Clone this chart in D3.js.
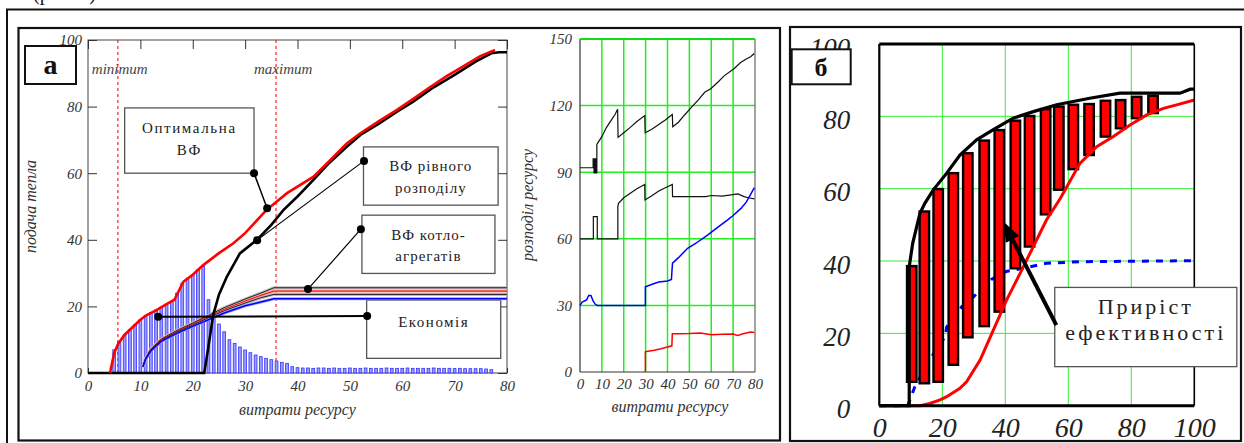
<!DOCTYPE html>
<html><head><meta charset="utf-8">
<script src="https://cdn.jsdelivr.net/npm/d3@7"></script>
<style>
html,body{margin:0;padding:0;background:#fff;}
svg{display:block;}
text{font-family:"Liberation Serif","DejaVu Serif",serif;}
</style></head><body>
<svg id="c" width="1244" height="443"></svg>
<script>
// ---------- Panel "а", left chart: подача тепла vs витрати ресурсу ----------
const aXTicks = [0, 10, 20, 30, 40, 50, 60, 70, 80];
const aYTicks = [0, 20, 40, 60, 80, 100];
const aRedX = [4.2, 5, 5.8, 7, 8.6, 10, 11.2, 13, 15, 16.5, 18.2, 20, 22, 25, 27.7, 30, 34.1, 38, 43, 46, 49.4, 52, 55.7, 59, 62.1, 65, 68.4, 71, 74.8, 77.7];
const aRedY = [0, 6, 8.9, 11.5, 13.9, 16, 17.4, 18.8, 20.7, 22, 27.4, 29.5, 32.4, 36, 38.9, 42, 49, 54, 58.9, 63.5, 68.9, 72, 75.8, 79, 82.3, 85.5, 89.1, 91.5, 95.1, 97];
const aEqX = [0, 22.2, 23, 23.9, 25, 26.5, 29, 32.2, 35, 37.3, 40, 43, 46, 49.4, 52, 55.7, 59, 62.1, 66, 70, 74, 77, 78.5, 80];
const aEqY = [0, 0, 8, 17.4, 23.5, 28.9, 35.9, 39.9, 44.5, 48.9, 53, 57.9, 63, 67.9, 71.5, 75, 78.5, 81.5, 85.8, 89.5, 93.5, 96, 96.3, 96.3];
const aBarX = [5, 6, 7, 8, 9, 10, 11, 12, 13, 14, 15, 16, 17, 18, 19, 20, 21, 22, 23, 24, 25, 26, 27, 28, 29, 30, 31, 32, 33, 34, 35, 36, 37, 38, 39, 40, 41, 42, 43, 44, 45, 46, 47, 48, 49, 50, 51, 52, 53, 54, 55, 56, 57, 58, 59, 60, 61, 62, 63, 64, 65, 66, 67, 68, 69, 70, 71, 72, 73, 74, 75, 76, 77];
const aBarY = [7, 9.5, 11.5, 13, 14.5, 16, 17.3, 18.2, 19, 19.8, 20.7, 21.5, 24, 27, 28.5, 29.5, 31, 32, 22, 18, 14.7, 12.4, 10, 8.9, 7.8, 6.9, 6.1, 5.4, 4.9, 4.4, 4, 3.6, 3.2, 2.9, 1.9, 1.6, 1.5, 1.5, 1.4, 1.5, 1.5, 1.4, 1.5, 1.4, 1.4, 1.5, 1.4, 1.4, 1.5, 1.4, 1.4, 1.4, 1.5, 1.4, 1.4, 1.4, 1.5, 1.4, 1.4, 1.4, 1.4, 1.5, 1.4, 1.4, 1.4, 1.3, 1.4, 1.3, 1.3, 1.3, 1.3, 1.2, 1.0];
const aUnitX = [10.5, 11, 12, 14, 17, 20, 23, 26, 30, 33, 35.5, 80];
const aUnit1 = [2, 4.5, 7.2, 10.2, 12.8, 15, 17.3, 19.6, 22.2, 24, 25.6, 25.6];
const aUnit2 = [2, 4.4, 7, 10, 12.5, 14.7, 17, 19.1, 21.6, 23.3, 24.6, 24.6];
const aUnit3 = [2, 4.3, 6.8, 9.8, 12.3, 14.4, 16.6, 18.7, 21, 22.6, 23.6, 23.6];
const aUnit4 = [1.8, 4.1, 6.6, 9.5, 11.9, 14, 16, 18, 20.2, 21.3, 22.3, 22.3];
const aLimits = [5.7, 35.9];
const aLimitLabels = ["minimum", "maximum"];

// ---------- Panel "а", right chart: розподіл ресурсу ----------
const mXTicks = [0, 10, 20, 30, 40, 50, 60, 70, 80];
const mYTicks = [0, 30, 60, 90, 120, 150];
const mTopX = [0, 6, 6, 6.4, 6.4, 6.8, 6.8, 7.2, 7.2, 7.7, 7.7, 8, 10, 12, 14, 16, 17.2, 17.4, 20, 23, 26, 29.6, 29.8, 33, 36, 39, 42.2, 42.4, 45, 48, 50.7, 54, 57, 59.8, 63, 66, 70.4, 73.4, 76, 78, 79.7];
const mTopY = [92, 92, 96, 96, 89.7, 89.7, 96, 96, 89.7, 89.7, 102.4, 103, 106, 110, 113, 116, 118.3, 105.7, 107.8, 110.2, 112.8, 115.5, 107.8, 109.5, 111.5, 113.5, 116, 110.5, 112.5, 116, 119, 122.5, 126, 127.6, 130.5, 133.5, 136.6, 139.4, 141, 142, 143.5];
const mMidX = [0, 6.1, 6.1, 7.9, 7.9, 17.3, 17.3, 17.6, 20, 23, 26, 29.6, 29.7, 33, 36, 39, 42.2, 42.3, 50, 57.5, 60, 65, 72.2, 75, 77, 79.7];
const mMidY = [60, 60, 70, 70, 60, 60, 74.5, 76, 78.5, 80.5, 82.5, 84.5, 77.5, 79.5, 81.5, 83, 84.5, 79, 79, 79, 79.5, 79.2, 80.2, 79, 78.5, 78];
const mBlueX = [0, 1, 2, 3, 4, 5, 6, 7, 7.9, 29.9, 29.9, 33, 36, 40, 41.8, 42, 42.3, 45, 49.2, 53, 58.3, 62, 67.5, 70, 73.6, 76, 78, 79.7];
const mBlueY = [30, 31.5, 32, 32.5, 34.5, 34.5, 32, 30.5, 30, 30, 38.4, 39.5, 40.5, 41, 41.7, 45, 49, 51.5, 55.7, 58, 61.7, 64.5, 68.5, 70.5, 73.7, 76.5, 80, 83];
const mRedX = [29.9, 29.9, 31, 34, 37, 40, 42, 42.2, 45, 50, 55, 60, 65, 70, 72, 75, 78, 79.7];
const mRedY = [0, 9.1, 9.3, 9.8, 10.5, 11.3, 11.8, 17.2, 17.2, 17.3, 17.6, 16.8, 17, 17.1, 16.5, 17.3, 18, 17.8];

// ---------- Panel "б" ----------
const bTicks = [0, 20, 40, 60, 80, 100];
const bRedX = [0, 13, 16, 19.3, 21.4, 25.6, 27.7, 32, 36.2, 40.4, 44.7, 48.9, 53.1, 57.4, 63.7, 69, 74.3, 79.6, 84.9, 90.2, 95, 100];
const bRedY = [0, 0, 0.6, 1.6, 2.5, 4.8, 6.6, 12.6, 20.9, 29.2, 36.6, 44, 51.4, 57.2, 67, 71.6, 74.4, 77.6, 80.4, 82.2, 83.3, 84.5];
const bBlackX = [0, 9.5, 9.5, 10.6, 12.9, 14.5, 17.1, 21.4, 25.6, 30.9, 36.2, 42.5, 48.9, 56.3, 66.8, 76.4, 95.5, 98.7, 100];
const bBlackY = [0, 0, 38.4, 44.9, 53.2, 56, 59.6, 64.3, 69.3, 73.5, 76.3, 79.5, 81.3, 83.2, 85, 86.4, 86.4, 87.5, 87.5];
const bBarX = [10.3, 14.3, 18.7, 23.5, 28.1, 33.3, 38.1, 43.2, 47.7, 52.8, 57, 61.6, 66.6, 71.8, 76.6, 81.7, 86.9];
const bBarTop = [38.6, 53.7, 59.9, 64.3, 69.8, 73.3, 76.2, 78.8, 80.1, 82, 82.7, 83.2, 83.4, 84.3, 84.5, 85.4, 85.7];
const bBarBottom = [6.6, 6.2, 6.6, 11.3, 18.9, 22, 26, 38, 44, 52.9, 59.7, 65.4, 69.3, 74.4, 76.7, 79.5, 80.9];
const bBlueX = [0, 9, 11.3, 16.6, 20.9, 21.4, 26.2, 29.9, 35.7, 40.3, 45.6, 53.1, 63.6, 100];
const bBlueY = [0, 0, 5.3, 13.5, 19.1, 21.8, 27.4, 30.1, 35, 37.1, 38, 39.4, 39.8, 40.1];

// ============================================================
const svg = d3.select("#c");
const zip = (xs, ys) => xs.map((x, i) => [x, ys[i]]);
const FONT = "'Liberation Serif','DejaVu Serif',serif";

function styleTicks(g, size, fill) {
  g.attr("font-family", null).attr("font-size", null);
  g.select(".domain").remove();
  g.selectAll(".tick line").attr("stroke", "#333").attr("stroke-width", 1);
  g.selectAll(".tick text").attr("font-family", FONT).attr("font-style", "italic")
    .attr("font-size", size).attr("fill", fill);
}

// Outer frames
svg.append("text").attr("x", 33).attr("y", 0).attr("font-size", 20).attr("fill", "#111").text("(рис. 4)");
svg.append("rect").attr("x", 7).attr("y", 9.5).attr("width", 1250).attr("height", 450)
  .attr("fill", "none").attr("stroke", "#111").attr("stroke-width", 2);
svg.append("rect").attr("x", 18.5).attr("y", 28).attr("width", 761.5).attr("height", 412.5)
  .attr("fill", "#fff").attr("stroke", "#111").attr("stroke-width", 2.2);
svg.append("rect").attr("x", 790).attr("y", 27).attr("width", 451).attr("height", 414)
  .attr("fill", "#fff").attr("stroke", "#111").attr("stroke-width", 2.2);

// ============ Chart a (left) ============
const xA = d3.scaleLinear().domain([0, 80]).range([88, 507]);
const yA = d3.scaleLinear().domain([0, 100]).range([373, 40]);
const gA = svg.append("g");

gA.append("rect").attr("x", xA(0)).attr("y", yA(100)).attr("width", xA(80) - xA(0)).attr("height", yA(0) - yA(100))
  .attr("fill", "none").attr("stroke", "#444").attr("stroke-width", 1);

styleTicks(gA.append("g").attr("transform", `translate(0,${yA(0)})`)
  .call(d3.axisBottom(xA).tickValues(aXTicks).tickSize(-5).tickPadding(7).tickFormat(d3.format("d"))), 15, "#333");
styleTicks(gA.append("g").attr("transform", `translate(0,${yA(100)})`)
  .call(d3.axisTop(xA).tickValues(aXTicks).tickSize(-9).tickFormat("")), 15, "#333");
styleTicks(gA.append("g").attr("transform", `translate(${xA(0)},0)`)
  .call(d3.axisLeft(yA).tickValues(aYTicks).tickSize(-9).tickPadding(6).tickFormat(d3.format("d"))), 15, "#333");
styleTicks(gA.append("g").attr("transform", `translate(${xA(80)},0)`)
  .call(d3.axisRight(yA).tickValues(aYTicks).tickSize(-9).tickFormat("")), 15, "#333");

gA.append("text").attr("x", (xA(0) + xA(80)) / 2).attr("y", 415).attr("text-anchor", "middle")
  .attr("font-style", "italic").attr("font-size", 16).attr("fill", "#333").text("витрати ресурсу");
gA.append("text").attr("transform", `translate(36,${(yA(0) + yA(100)) / 2}) rotate(-90)`).attr("text-anchor", "middle")
  .attr("font-style", "italic").attr("font-size", 16).attr("fill", "#333").text("подача тепла");

// limits
aLimits.forEach((v, i) => {
  gA.append("line").attr("x1", xA(v)).attr("x2", xA(v)).attr("y1", yA(100)).attr("y2", yA(0))
    .attr("stroke", "#ff2020").attr("stroke-width", 1.2).attr("stroke-dasharray", "3,3");
  gA.append("text").attr("x", xA(v) + (i === 0 ? -26 : -22)).attr("y", 74).attr("font-style", "italic")
    .attr("font-size", 15).attr("fill", "#444").text(aLimitLabels[i]);
});

// boxes (data coordinates)
function box(g, xs, ys, x0, x1, y0, y1, lines, ls, fs, lineGap, fy) {
  g.append("rect").attr("x", xs(x0)).attr("y", ys(y1)).attr("width", xs(x1) - xs(x0)).attr("height", ys(y0) - ys(y1))
    .attr("fill", "#fff").attr("stroke", "#555").attr("stroke-width", 1.3);
  const cx = (xs(x0) + xs(x1)) / 2;
  lines.forEach((t, i) => {
    g.append("text").attr("x", cx).attr("y", fy + i * lineGap).attr("text-anchor", "middle")
      .attr("font-size", fs).attr("letter-spacing", ls).attr("fill", "#222").text(t);
  });
}
box(gA, xA, yA, 7, 31.7, 60, 79.6, ["Оптимальна", "ВФ"], "1.6px", 15, 22, 133);
box(gA, xA, yA, 52.6, 78.3, 50.4, 67.9, ["ВФ рівного", "розподілу"], "1px", 15, 22, 171);
box(gA, xA, yA, 52.3, 77.7, 29.9, 47.4, ["ВФ котло-", "агрегатів"], "1px", 15, 21, 240);
box(gA, xA, yA, 53.2, 78.8, 4.4, 21.9, ["Економія"], "1.5px", 15, 0, 327);

// bars
gA.append("g").selectAll("rect").data(zip(aBarX, aBarY)).join("rect")
  .attr("x", d => xA(d[0]) - 1.4).attr("width", 2.8)
  .attr("y", d => yA(d[1])).attr("height", d => yA(0) - yA(d[1]))
  .attr("fill", "#9c9cff").attr("stroke", "#3434ff").attr("stroke-width", 0.8);

const lineA = d3.line().x(d => xA(d[0])).y(d => yA(d[1]));
// unit curves (ВФ котлоагрегатів)
[[aUnit1, "#bbb"], [aUnit2, "#f9a0a0"], [aUnit3, "#bbb"], [aUnit4, "#a0a0ff"]]
  .forEach(([ys, halo]) => {
    gA.append("path").attr("d", lineA(zip(aUnitX, ys))).attr("fill", "none").attr("stroke", halo).attr("stroke-width", 3);
  });
[[aUnit1, "#222", 1], [aUnit2, "#ff0000", 1], [aUnit3, "#222", 1], [aUnit4, "#0000ff", 1.5]]
  .forEach(([ys, col, w]) => {
    gA.append("path").attr("d", lineA(zip(aUnitX, ys))).attr("fill", "none").attr("stroke", col).attr("stroke-width", w);
  });

gA.append("path").attr("d", lineA(zip(aEqX, aEqY))).attr("fill", "none").attr("stroke", "#000").attr("stroke-width", 2.6);
gA.append("path").attr("d", lineA(zip(aRedX, aRedY))).attr("fill", "none").attr("stroke", "#ff0000").attr("stroke-width", 2.6);

// connectors
function connector(g, xs, ys, p, q, w) {
  g.append("line").attr("x1", xs(p[0])).attr("y1", ys(p[1])).attr("x2", xs(q[0])).attr("y2", ys(q[1]))
    .attr("stroke", "#000").attr("stroke-width", w);
  [p, q].forEach(d => g.append("circle").attr("cx", xs(d[0])).attr("cy", ys(d[1])).attr("r", 4).attr("fill", "#000"));
}
connector(gA, xA, yA, [31.7, 60], [34.2, 49.5], 1.5);
connector(gA, xA, yA, [52.7, 63.7], [32.3, 39.9], 1.2);
connector(gA, xA, yA, [52.1, 43.2], [42.0, 25.2], 1.2);
connector(gA, xA, yA, [53.3, 17.1], [13.4, 16.9], 2);

// label а
svg.append("rect").attr("x", 25).attr("y", 46).attr("width", 51).attr("height", 38)
  .attr("fill", "#fff").attr("stroke", "#111").attr("stroke-width", 2);
svg.append("text").attr("x", 50.5).attr("y", 74).attr("text-anchor", "middle").attr("font-weight", "bold")
  .attr("font-size", 28).attr("fill", "#111").text("а");

// ============ Chart a (right) ============
const xM = d3.scaleLinear().domain([0, 80]).range([580, 755]);
const yM = d3.scaleLinear().domain([0, 150]).range([372, 39]);
const gM = svg.append("g");
gM.append("g").selectAll("line").data(mXTicks.filter(d => d > 0 && d < 80)).join("line")
  .attr("x1", d => xM(d)).attr("x2", d => xM(d)).attr("y1", yM(0)).attr("y2", yM(150))
  .attr("stroke", "#22ee22").attr("stroke-width", 1.5);
gM.append("g").selectAll("line").data(mYTicks.filter(d => d > 0 && d < 150)).join("line")
  .attr("x1", xM(0)).attr("x2", xM(80)).attr("y1", d => yM(d)).attr("y2", d => yM(d))
  .attr("stroke", "#22ee22").attr("stroke-width", 1.5);
gM.append("line").attr("x1", xM(80)).attr("x2", xM(80)).attr("y1", yM(0)).attr("y2", yM(150)).attr("stroke", "#666").attr("stroke-width", 1.2);
gM.append("line").attr("x1", xM(0)).attr("x2", xM(0)).attr("y1", yM(0)).attr("y2", yM(150)).attr("stroke", "#333").attr("stroke-width", 1.2);
gM.append("line").attr("x1", xM(0)).attr("x2", xM(80)).attr("y1", yM(0)).attr("y2", yM(0)).attr("stroke", "#333").attr("stroke-width", 1.2);
gM.append("line").attr("x1", xM(0)).attr("x2", xM(80)).attr("y1", yM(150)).attr("y2", yM(150)).attr("stroke", "#11dd11").attr("stroke-width", 2.2);

styleTicks(gM.append("g").attr("transform", `translate(0,${yM(0)})`)
  .call(d3.axisBottom(xM).tickValues(mXTicks).tickSize(0).tickPadding(6).tickFormat(d3.format("d"))), 15, "#333");
styleTicks(gM.append("g").attr("transform", `translate(${xM(0)},0)`)
  .call(d3.axisLeft(yM).tickValues(mYTicks).tickSize(0).tickPadding(8).tickFormat(d3.format("d"))), 15, "#333");
gM.append("text").attr("x", 670).attr("y", 412).attr("text-anchor", "middle")
  .attr("font-style", "italic").attr("font-size", 16).attr("fill", "#333").text("витрати ресурсу");
gM.append("text").attr("transform", `translate(533,205) rotate(-90)`).attr("text-anchor", "middle")
  .attr("font-style", "italic").attr("font-size", 16).attr("fill", "#333").text("розподіл ресурсу");

const lineM = d3.line().x(d => xM(d[0])).y(d => yM(d[1]));
gM.append("path").attr("d", lineM(zip(mTopX, mTopY))).attr("fill", "none").attr("stroke", "#111").attr("stroke-width", 1.2);
gM.append("path").attr("d", lineM(zip(mMidX, mMidY))).attr("fill", "none").attr("stroke", "#111").attr("stroke-width", 1.2);
gM.append("path").attr("d", lineM(zip(mBlueX, mBlueY))).attr("fill", "none").attr("stroke", "#0000ff").attr("stroke-width", 1.5);
gM.append("path").attr("d", lineM(zip(mRedX, mRedY))).attr("fill", "none").attr("stroke", "#ff0000").attr("stroke-width", 1.5);

// ============ Chart б ============
const xB = d3.scaleLinear().domain([0, 100]).range([879.3, 1194.3]);
const yB = d3.scaleLinear().domain([0, 100]).range([405.7, 44]);
const gB = svg.append("g");
gB.append("g").selectAll("line").data(bTicks.filter(d => d > 0 && d < 100)).join("line")
  .attr("x1", d => xB(d)).attr("x2", d => xB(d)).attr("y1", yB(0)).attr("y2", yB(100))
  .attr("stroke", "#33ee33").attr("stroke-width", 1);
gB.append("g").selectAll("line").data(bTicks.filter(d => d > 0 && d < 100)).join("line")
  .attr("x1", xB(0)).attr("x2", xB(100)).attr("y1", d => yB(d)).attr("y2", d => yB(d))
  .attr("stroke", "#33ee33").attr("stroke-width", 1);

styleTicks(gB.append("g").attr("transform", `translate(0,${yB(0)})`)
  .call(d3.axisBottom(xB).tickValues(bTicks).tickSize(0).tickPadding(11).tickFormat(d3.format("d"))), 28, "#222");
styleTicks(gB.append("g").attr("transform", `translate(${xB(0)},0)`)
  .call(d3.axisLeft(yB).tickValues(bTicks).tickSize(0).tickPadding(29).tickFormat(d3.format("d"))), 27, "#222");
gB.selectAll(".tick text").attr("dy", function () { return d3.select(this).attr("dy") === "0.32em" ? "0.45em" : d3.select(this).attr("dy"); });

const lineB = d3.line().x(d => xB(d[0])).y(d => yB(d[1]));
gB.append("path").attr("d", lineB(zip(bBlueX, bBlueY))).attr("fill", "none").attr("stroke", "#0000ff")
  .attr("stroke-width", 3).attr("stroke-dasharray", "7,7");
const bw = xB(1.5) - xB(0);
gB.append("g").selectAll("rect").data(bBarX.map((x, i) => [x, bBarBottom[i], bBarTop[i]])).join("rect")
  .attr("x", d => xB(d[0]) - bw).attr("width", 2 * bw)
  .attr("y", d => yB(d[2])).attr("height", d => yB(d[1]) - yB(d[2]))
  .attr("fill", "#ff0000").attr("stroke", "#000").attr("stroke-width", 2.4);
gB.append("path").attr("d", lineB(zip(bRedX, bRedY))).attr("fill", "none").attr("stroke", "#ff0000").attr("stroke-width", 3);
gB.append("path").attr("d", lineB(zip(bBlackX, bBlackY))).attr("fill", "none").attr("stroke", "#000").attr("stroke-width", 3.2);

// frame б
gB.append("line").attr("x1", xB(0)).attr("x2", xB(100)).attr("y1", yB(100)).attr("y2", yB(100)).attr("stroke", "#000").attr("stroke-width", 3);
gB.append("line").attr("x1", xB(0)).attr("x2", xB(100)).attr("y1", yB(0)).attr("y2", yB(0)).attr("stroke", "#000").attr("stroke-width", 3);
gB.append("line").attr("x1", xB(0)).attr("x2", xB(0)).attr("y1", yB(0)).attr("y2", yB(100)).attr("stroke", "#000").attr("stroke-width", 2.2);
gB.append("line").attr("x1", xB(100)).attr("x2", xB(100)).attr("y1", yB(0)).attr("y2", yB(100)).attr("stroke", "#000").attr("stroke-width", 1.6);

// callout Приріст ефективності
box(gB, xB, yB, 55.7, 113.5, 10.8, 32.7, ["Приріст", "ефективності"], "3px", 22, 26, 314);
(function () {
  const s = [xB(56.2), yB(22.3)], t = [xB(39.4), yB(50.9)];
  const dx = t[0] - s[0], dy = t[1] - s[1], L = Math.hypot(dx, dy);
  const ux = dx / L, uy = dy / L, hl = 20, hw = 7.5;
  const b = [t[0] - ux * hl, t[1] - uy * hl];
  gB.append("line").attr("x1", s[0]).attr("y1", s[1]).attr("x2", b[0] + ux * 2).attr("y2", b[1] + uy * 2)
    .attr("stroke", "#000").attr("stroke-width", 4);
  gB.append("polygon").attr("points", [t, [b[0] - uy * hw, b[1] + ux * hw], [b[0] + uy * hw, b[1] - ux * hw]].map(p => p.join(",")).join(" "))
    .attr("fill", "#000");
})();

// label б
svg.append("rect").attr("x", 791.7).attr("y", 49.3).attr("width", 59).attr("height", 35)
  .attr("fill", "#fff").attr("stroke", "#111").attr("stroke-width", 2);
svg.append("text").attr("x", 821).attr("y", 76).attr("text-anchor", "middle").attr("font-weight", "bold")
  .attr("font-size", 26).attr("fill", "#111").text("б");
</script>
</body></html>
